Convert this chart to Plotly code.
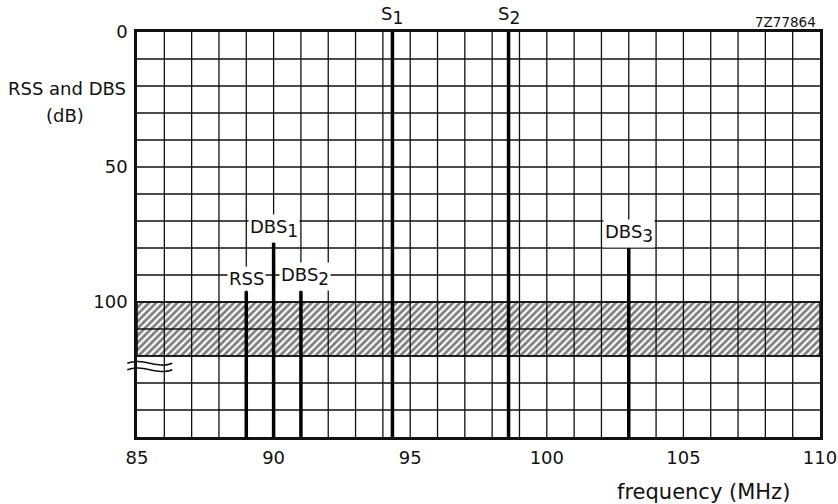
import plotly.graph_objects as go

# ---- data ----
freq_min, freq_max = 85, 110
level_min, level_max = 0, 150
x_ticks = [85, 90, 95, 100, 105, 110]
y_ticks = [0, 50, 100]
grid_x = list(range(86, 110))
grid_y = list(range(10, 150, 10))

signal_names = ["S", "S"]
signal_subs = ["1", "2"]
signal_freqs = [94.35, 98.6]

spur_names = ["RSS", "DBS", "DBS", "DBS"]
spur_subs = ["", "1", "2", "3"]
spur_freqs = [89, 90, 91, 103]
spur_levels = [96, 78, 96, 80]
spur_label_shift = [0, 0, 4, 0]

band_low, band_high = 100, 120

FONT = "DejaVu Sans"
INK = "#111111"


def label(name, sub):
    if not sub:
        return name
    return f"{name}<sub><span style='font-size:17px'>{sub}</span></sub>"


fig = go.Figure()

# hatched band
fig.add_trace(go.Scatter(
    x=[freq_min, freq_max, freq_max, freq_min, freq_min],
    y=[band_low, band_low, band_high, band_high, band_low],
    mode="lines", fill="toself",
    line=dict(color=INK, width=1.5),
    fillcolor="white",
    fillpattern=dict(shape="/", size=5, solidity=0.55, fgcolor="black", bgcolor="white"),
    hoverinfo="skip", showlegend=False,
))

# grid lines drawn above the hatch
gx, gy = [], []
for f in grid_x:
    gx += [f, f, None]
    gy += [level_min, level_max, None]
for lv in grid_y:
    gx += [freq_min, freq_max, None]
    gy += [lv, lv, None]
fig.add_trace(go.Scatter(x=gx, y=gy, mode="lines",
                         line=dict(color=INK, width=1.3),
                         hoverinfo="skip", showlegend=False))

# wanted signals (full height)
for name, sub, f in zip(signal_names, signal_subs, signal_freqs):
    fig.add_trace(go.Scatter(x=[f, f], y=[level_min, level_max], mode="lines",
                             line=dict(color="black", width=3.5),
                             hoverinfo="skip", showlegend=False))
    fig.add_annotation(x=f, y=1.04, xref="x", yref="paper", yanchor="middle",
                       xanchor="center", text=label(name, sub), showarrow=False,
                       font=dict(family=FONT, size=18, color=INK))

# spurious responses
for name, sub, f, lv, sh in zip(spur_names, spur_subs, spur_freqs, spur_levels,
                                spur_label_shift):
    fig.add_trace(go.Scatter(x=[f, f], y=[lv, level_max], mode="lines",
                             line=dict(color="black", width=3.5),
                             hoverinfo="skip", showlegend=False))
    fig.add_annotation(x=f, y=lv, xref="x", yref="y", yanchor="bottom",
                       xanchor="center", xshift=sh, text=label(name, sub),
                       showarrow=False, bgcolor="white", borderpad=1,
                       font=dict(family=FONT, size=18, color=INK))


# axis break symbol (two tildes), paper coords
def tilde(x0, x1, yc, a):
    w = x1 - x0
    return (f"M {x0},{yc} C {x0 + w*0.33},{yc + 2.2*a} "
            f"{x0 + w*0.67},{yc - 2.2*a} {x1},{yc}")


for yc in (0.182, 0.166):
    fig.add_shape(type="path", xref="paper", yref="paper",
                  path=tilde(-0.0142, 0.0517, yc, 0.007),
                  line=dict(color=INK, width=1.6), layer="above")

# axis titles / notes
fig.add_annotation(x=-0.103, y=0.861, xref="paper", yref="paper",
                   xanchor="center", yanchor="middle",
                   text="RSS and DBS", showarrow=False,
                   font=dict(family=FONT, size=18, color=INK))
fig.add_annotation(x=-0.106, y=0.793, xref="paper", yref="paper",
                   xanchor="center", yanchor="middle",
                   text="(dB)", showarrow=False,
                   font=dict(family=FONT, size=18, color=INK))
fig.add_annotation(x=0.8295, y=-0.136, xref="paper", yref="paper",
                   xanchor="center", yanchor="middle",
                   text="frequency (MHz)", showarrow=False,
                   font=dict(family=FONT, size=21, color=INK))
fig.add_annotation(x=0.997, y=1.025, xref="paper", yref="paper",
                   xanchor="right", yanchor="middle",
                   text="7Z77864", showarrow=False,
                   font=dict(family=FONT, size=13.5, color=INK))

fig.update_xaxes(range=[freq_min, freq_max], tickvals=x_ticks,
                 showgrid=False, zeroline=False, showline=True, mirror=True,
                 linecolor=INK, linewidth=2.5, ticks="", ticklabelstandoff=3,
                 automargin=False,
                 tickfont=dict(family=FONT, size=18, color=INK))
fig.update_yaxes(range=[level_max, level_min], tickvals=y_ticks,
                 showgrid=False, zeroline=False, showline=True, mirror=True,
                 linecolor=INK, linewidth=2.5, ticks="", ticklabelstandoff=3,
                 automargin=False,
                 tickfont=dict(family=FONT, size=18, color=INK))

fig.update_layout(width=838, height=504, autosize=False,
                  margin=dict(l=137, r=18, t=32, b=67),
                  plot_bgcolor="white", paper_bgcolor="white",
                  showlegend=False)

fig.write_html(
    "out.html",
    config={"displayModeBar": False, "responsive": False},
    post_script=("document.body.style.margin='0';"
                 "document.body.style.overflow='hidden';"
                 "document.documentElement.style.overflow='hidden';"),
)
